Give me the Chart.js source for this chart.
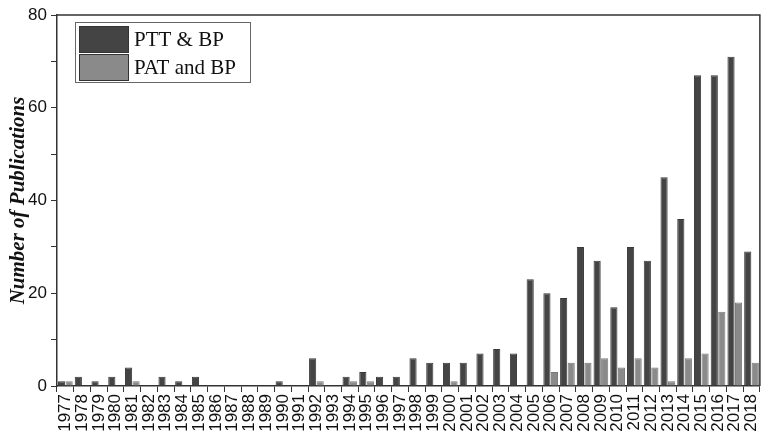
<!DOCTYPE html>
<html>
<head>
<meta charset="utf-8">
<script src="https://cdn.jsdelivr.net/npm/chart.js@4.4.1/dist/chart.umd.min.js"></script>
<style>
  html, body { margin: 0; padding: 0; background: #fff; }
  #wrap { width: 774px; height: 446px; }
</style>
</head>
<body>
<div id="wrap"><canvas id="chart" width="774" height="446"></canvas></div>
<script>
let years = [];
for (let y = 1977; y <= 2018; y++) years.push(String(y));

let pttBP = [1, 2, 1, 2, 4, 0, 2, 1, 2, 0, 0, 0, 0, 1, 0, 6, 0, 2, 3, 2, 2,
  6, 5, 5, 5, 7, 8, 7, 23, 20, 19, 30, 27, 17, 30, 27, 45, 36, 67, 67, 71, 29];
let patBP = [1, 0, 0, 0, 1, 0, 0, 0, 0, 0, 0, 0, 0, 0, 0, 1, 0, 1, 1, 0, 0,
  0, 0, 1, 0, 0, 0, 0, 0, 3, 5, 5, 6, 4, 6, 4, 1, 6, 7, 16, 18, 5];

let yTicks = [0, 20, 40, 60, 80];

// frame on top and right of the plot
let framePlugin = {
  id: "frame",
  afterDraw(chart) {
    let a = chart.chartArea;
    let c = chart.ctx;
    c.save();
    c.strokeStyle = "#333";
    c.lineWidth = 1.5;
    c.beginPath();
    c.moveTo(a.left, a.top);
    c.lineTo(a.right, a.top);
    c.lineTo(a.right, a.bottom);
    c.stroke();
    c.restore();
  }
};

// legend box inside the plot, top left
let boxLegend = {
  id: "boxLegend",
  afterDraw(chart) {
    let c = chart.ctx;
    let x = 75, y = 22, w = 175, h = 60;
    c.save();
    c.fillStyle = "#fff";
    c.fillRect(x, y, w, h);
    c.strokeStyle = "#666";
    c.lineWidth = 1;
    c.strokeRect(x + 0.5, y + 0.5, w, h);
    chart.data.datasets.forEach((ds, i) => {
      let sy = y + 4 + i * 28;
      c.fillStyle = ds.backgroundColor;
      c.fillRect(x + 4, sy, 49, 26);
      c.strokeStyle = "#333";
      c.strokeRect(x + 4.5, sy + 0.5, 49, 26);
      c.fillStyle = "#111";
      c.font = "21px 'Liberation Serif', 'Times New Roman', serif";
      c.textBaseline = "middle";
      c.fillText(ds.label, x + 59, sy + 14);
    });
    c.restore();
  }
};

new Chart(document.getElementById("chart"), {
  type: "bar",
  data: {
    labels: years,
    datasets: [
      {
        label: "PTT & BP",
        data: pttBP,
        backgroundColor: "#444444",
        borderColor: "#3a3a3a",
        borderWidth: 1
      },
      {
        label: "PAT and BP",
        data: patBP,
        backgroundColor: "#8a8a8a",
        borderColor: "#7a7a7a",
        borderWidth: 1
      }
    ]
  },
  options: {
    responsive: false,
    animation: false,
    layout: { padding: { top: 15, right: 7, left: 4, bottom: 2 } },
    plugins: {
      legend: { display: false },
      tooltip: { enabled: false }
    },
    datasets: {
      bar: { categoryPercentage: 0.9, barPercentage: 0.95 }
    },
    scales: {
      x: {
        offset: true,
        grid: { display: true, drawOnChartArea: false, drawTicks: true, tickLength: 6, color: "#333" },
        border: { color: "#333", width: 1.5 },
        ticks: {
          autoSkip: false,
          minRotation: 90,
          maxRotation: 90,
          padding: 2,
          color: "#111",
          font: { family: "'Liberation Sans', Arial, sans-serif", size: 17 }
        },
        afterFit(scale) { scale.height = 58; }
      },
      y: {
        min: 0,
        max: 80,
        grid: { display: true, drawOnChartArea: false, drawTicks: true, tickLength: 6, color: "#333" },
        border: { color: "#333", width: 1.5 },
        ticks: {
          stepSize: 10,
          padding: 4,
          color: "#111",
          font: { family: "'Liberation Sans', Arial, sans-serif", size: 17 },
          callback: (v) => (yTicks.includes(v) ? v : "")
        },
        title: {
          display: true,
          text: "Number of Publications",
          color: "#111",
          padding: 2,
          font: { family: "'Liberation Serif', 'Times New Roman', serif", size: 21, style: "italic", weight: "bold" }
        },
        afterFit(scale) { scale.width = 53; }
      }
    }
  },
  plugins: [framePlugin, boxLegend]
});
</script>
</body>
</html>
